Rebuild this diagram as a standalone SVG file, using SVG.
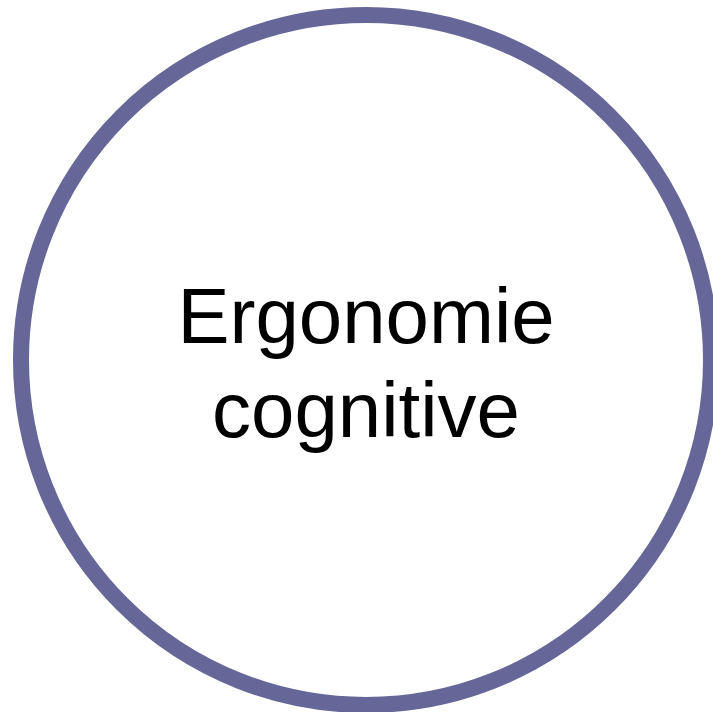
<svg xmlns="http://www.w3.org/2000/svg" width="713" height="712" viewBox="0 0 713 712">
<style>
.node{fill:#ffffff;stroke:#666699;stroke-width:16}
.lbl{font-family:"Liberation Sans",Arial,sans-serif;font-size:78px;fill:#000000;text-anchor:middle}
</style>
<rect width="713" height="712" fill="#ffffff"/>
<g id="connectors"></g>
<g id="node-ergonomie">
<circle class="node" cx="366" cy="360" r="345"/>
<text class="lbl" x="366" y="343">Ergonomie</text>
<text class="lbl" x="366" y="437">cognitive</text>
</g>
</svg>
